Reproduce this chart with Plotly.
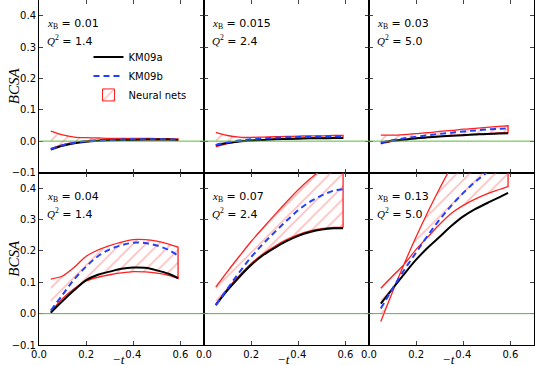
import plotly.graph_objects as go
from plotly.subplots import make_subplots

# -t grid shared by every panel
t = [0.05, 0.1, 0.15, 0.2, 0.25, 0.3, 0.35, 0.4, 0.45, 0.5, 0.55, 0.59]

# kinematics for each panel (row by row)
xb_labels = ['0.01', '0.015', '0.03', '0.04', '0.07', '0.13']
q2_labels = ['1.4', '2.4', '5.0', '1.4', '2.4', '5.0']

# KM09a model
km09a_1 = [-0.027, -0.015, -0.007, -0.002, 0.001, 0.003, 0.004, 0.004, 0.005, 0.005, 0.005, 0.004]
km09a_2 = [-0.013, -0.006, -0.001, 0.002, 0.004, 0.006, 0.007, 0.008, 0.009, 0.009, 0.010, 0.010]
km09a_3 = [-0.005, 0.001, 0.005, 0.009, 0.012, 0.015, 0.017, 0.019, 0.021, 0.023, 0.024, 0.025]
km09a_4 = [0.003, 0.040, 0.075, 0.107, 0.124, 0.134, 0.143, 0.147, 0.146, 0.138, 0.127, 0.113]
km09a_5 = [0.027, 0.075, 0.117, 0.155, 0.186, 0.210, 0.231, 0.248, 0.260, 0.268, 0.272, 0.272]
km09a_6 = [0.032, 0.080, 0.127, 0.172, 0.211, 0.245, 0.280, 0.310, 0.333, 0.352, 0.370, 0.385]

# KM09b model
km09b_1 = [-0.025, -0.013, -0.005, 0.000, 0.003, 0.004, 0.005, 0.006, 0.006, 0.006, 0.005, 0.005]
km09b_2 = [-0.012, -0.004, 0.002, 0.006, 0.009, 0.011, 0.012, 0.013, 0.014, 0.015, 0.015, 0.015]
km09b_3 = [-0.004, 0.003, 0.009, 0.014, 0.019, 0.023, 0.027, 0.031, 0.034, 0.037, 0.039, 0.041]
km09b_4 = [0.010, 0.060, 0.110, 0.150, 0.183, 0.205, 0.218, 0.226, 0.225, 0.217, 0.203, 0.185]
km09b_5 = [0.027, 0.080, 0.132, 0.180, 0.222, 0.260, 0.296, 0.330, 0.357, 0.377, 0.392, 0.397]
km09b_6 = [0.016, 0.080, 0.140, 0.195, 0.250, 0.300, 0.345, 0.385, 0.420, 0.450, 0.478, 0.500]

# neural nets band edges
nn_hi_1 = [0.032, 0.020, 0.013, 0.011, 0.010, 0.009, 0.009, 0.009, 0.009, 0.008, 0.008, 0.007]
nn_lo_1 = [-0.024, -0.012, -0.004, 0.000, 0.002, 0.003, 0.004, 0.004, 0.004, 0.004, 0.004, 0.003]
nn_hi_2 = [0.028, 0.018, 0.013, 0.012, 0.013, 0.014, 0.015, 0.016, 0.017, 0.017, 0.018, 0.018]
nn_lo_2 = [-0.018, -0.008, -0.001, 0.003, 0.005, 0.007, 0.008, 0.009, 0.010, 0.010, 0.010, 0.010]
nn_hi_3 = [0.019, 0.019, 0.021, 0.024, 0.027, 0.031, 0.034, 0.038, 0.041, 0.044, 0.047, 0.049]
nn_lo_3 = [-0.009, -0.001, 0.004, 0.008, 0.012, 0.015, 0.018, 0.020, 0.022, 0.024, 0.026, 0.027]
nn_hi_4 = [0.110, 0.120, 0.148, 0.183, 0.203, 0.217, 0.228, 0.236, 0.236, 0.231, 0.222, 0.212]
nn_lo_4 = [0.005, 0.048, 0.080, 0.104, 0.116, 0.124, 0.130, 0.134, 0.133, 0.129, 0.122, 0.112]
nn_hi_5 = [0.085, 0.135, 0.183, 0.230, 0.273, 0.315, 0.356, 0.395, 0.430, 0.460, 0.492, 0.520]
nn_lo_5 = [0.030, 0.080, 0.122, 0.160, 0.190, 0.215, 0.236, 0.252, 0.264, 0.271, 0.275, 0.276]
nn_hi_6 = [0.081, 0.120, 0.158, 0.205, 0.245, 0.285, 0.320, 0.345, 0.365, 0.382, 0.395, 0.405]
nn_lo_6 = [-0.025, 0.070, 0.160, 0.245, 0.325, 0.400, 0.470, 0.540, 0.605, 0.670, 0.730, 0.780]

km09a = [km09a_1, km09a_2, km09a_3, km09a_4, km09a_5, km09a_6]
km09b = [km09b_1, km09b_2, km09b_3, km09b_4, km09b_5, km09b_6]
nn_hi = [nn_hi_1, nn_hi_2, nn_hi_3, nn_hi_4, nn_hi_5, nn_hi_6]
nn_lo = [nn_lo_1, nn_lo_2, nn_lo_3, nn_lo_4, nn_lo_5, nn_lo_6]

serif = 'Liberation Serif'
sans = 'DejaVu Sans'
hatch = dict(shape='/', fgcolor='rgba(255,90,90,0.9)',
             bgcolor='rgba(255,255,255,0)', size=9, solidity=0.17)

fig = make_subplots(rows=2, cols=3, horizontal_spacing=0, vertical_spacing=0)

for i in range(6):
    row = i // 3 + 1
    col = i % 3 + 1
    first = (i == 0)
    # closed outline of the band; corner points doubled so the spline keeps sharp ends
    band_x = t + [t[-1], t[-1]] + t[::-1] + [t[0]]
    band_y = nn_hi[i] + [nn_hi[i][-1], nn_lo[i][-1]] + nn_lo[i][::-1] + [nn_lo[i][0]]
    fig.add_trace(go.Scatter(
        x=band_x, y=band_y,
        mode='lines',
        fill='toself',
        fillcolor='rgba(255,255,255,0)',
        fillpattern=hatch,
        line=dict(color='#ff2020', width=1.3, shape='spline', smoothing=0.8),
        showlegend=False,
    ), row=row, col=col)
    fig.add_trace(go.Scatter(
        x=t, y=km09a[i], mode='lines',
        line=dict(color='black', width=2, shape='spline'),
        name='KM09a', legendrank=1, showlegend=first,
    ), row=row, col=col)
    fig.add_trace(go.Scatter(
        x=t, y=km09b[i], mode='lines',
        line=dict(color='#2040ff', width=2, dash='6px,4px', shape='spline'),
        name='KM09b', legendrank=2, showlegend=first,
    ), row=row, col=col)
    fig.add_hline(y=0, line=dict(color='#55bb33', width=1), row=row, col=col)

    suffix = '' if i == 0 else str(i + 1)
    fig.add_annotation(
        xref='x%s domain' % suffix, yref='y%s domain' % suffix,
        x=0.035, y=0.86, xanchor='left', yanchor='middle', showarrow=False,
        text="<span style='font-family:%s'><i>x</i><sub>B</sub></span> = %s" % (serif, xb_labels[i]),
        font=dict(family=sans, size=11, color='black'),
    )
    fig.add_annotation(
        xref='x%s domain' % suffix, yref='y%s domain' % suffix,
        x=0.035, y=0.765, xanchor='left', yanchor='middle', showarrow=False,
        text="<span style='font-family:%s'><i>Q</i><sup>2</sup></span> = %s" % (serif, q2_labels[i]),
        font=dict(family=sans, size=11, color='black'),
    )
    if row == 2:
        fig.add_annotation(
            xref='x%s domain' % suffix, yref='paper',
            x=0.48, y=0, yshift=-14, xanchor='center', yanchor='middle',
            showarrow=False, text='<i>−t</i>',
            font=dict(family=serif, size=13, color='black'),
        )
    if col == 1:
        fig.add_annotation(
            xref='paper', yref='y%s domain' % suffix,
            x=0, xshift=-25, y=0.5, xanchor='center', yanchor='middle',
            textangle=-90, showarrow=False, text='<i>BCSA</i>',
            font=dict(family=serif, size=15, color='black'),
        )

    fig.update_xaxes(
        range=[0, 0.7], tickvals=[0.0, 0.2, 0.4, 0.6], tickformat='.1f',
        showticklabels=(row == 2), ticks='inside', ticklen=4,
        showline=True, linecolor='black', linewidth=1, mirror='ticks',
        showgrid=False, zeroline=False,
        tickfont=dict(family=sans, size=10, color='black'),
        automargin=False,
        row=row, col=col)
    fig.update_yaxes(
        range=[-0.1, 0.45], dtick=0.1, tick0=0, tickformat='.1f',
        showticklabels=(col == 1), ticks='inside', ticklen=4,
        showline=True, linecolor='black', linewidth=1, mirror='ticks',
        showgrid=False, zeroline=False,
        tickfont=dict(family=sans, size=10, color='black'),
        automargin=False,
        row=row, col=col)

# legend-only swatch for the hatched band
fig.add_trace(go.Bar(
    x=[None], y=[None], name='Neural nets', legendrank=3,
    marker=dict(color='rgba(255,255,255,0)', pattern=hatch,
                line=dict(color='#ff2020', width=1)),
), row=1, col=1)

fig.update_layout(
    width=535, height=366,
    margin=dict(l=39, r=1, t=0, b=21),
    paper_bgcolor='white', plot_bgcolor='white',
    showlegend=True,
    legend=dict(x=0.1, y=0.877, xanchor='left', yanchor='top',
                bgcolor='rgba(0,0,0,0)', borderwidth=0,
                font=dict(family=sans, size=10, color='black'),
                tracegroupgap=0),
)

fig.write_html('out.html', post_script="document.body.style.margin='0';",
               config={'displayModeBar': False})
